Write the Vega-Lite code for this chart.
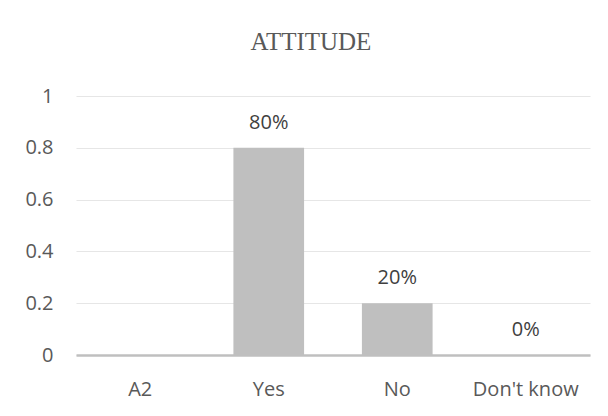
{
  "$schema": "https://vega.github.io/schema/vega-lite/v6.json",
  "autosize": "none",
  "width": 514,
  "height": 259,
  "padding": {"left": 76, "top": 96, "right": 18, "bottom": 61},
  "background": "white",
  "title": {
    "text": "ATTITUDE",
    "font": "Liberation Serif",
    "fontSize": 25,
    "fontWeight": "normal",
    "color": "#595959",
    "anchor": "middle",
    "dx": -22,
    "offset": 31
  },
  "data": {
    "values": [
      {"answer": "A2", "share": null},
      {"answer": "Yes", "share": 0.8},
      {"answer": "No", "share": 0.2},
      {"answer": "Don't know", "share": 0}
    ]
  },
  "encoding": {
    "x": {
      "field": "answer",
      "type": "nominal",
      "sort": null,
      "scale": {"domain": ["A2", "Yes", "No", "Don't know"], "paddingInner": 0.45, "paddingOuter": 0.225},
      "axis": {
        "title": null,
        "labelAngle": 0,
        "ticks": false,
        "domainColor": "#bfbfbf",
        "domainWidth": 2.5,
        "labelPadding": 24,
        "labelFont": "Open Sans",
        "labelFontSize": 20,
        "labelColor": "#595959",
        "grid": false
      }
    },
    "y": {
      "field": "share",
      "type": "quantitative",
      "scale": {"domain": [0, 1]},
      "axis": {
        "title": null,
        "values": [0, 0.2, 0.4, 0.6, 0.8, 1],
        "format": "~g",
        "domain": false,
        "ticks": false,
        "labelPadding": 23,
        "labelFont": "Open Sans",
        "labelFontSize": 20,
        "labelColor": "#595959",
        "gridColor": "#e6e6e6",
        "gridWidth": 1.2
      }
    }
  },
  "layer": [
    {"mark": {"type": "bar", "color": "#bfbfbf"}},
    {
      "mark": {"type": "text", "font": "Open Sans", "fontSize": 20, "color": "#404040", "baseline": "alphabetic", "dy": -19},
      "encoding": {"text": {"field": "share", "type": "quantitative", "format": ".0%"}}
    }
  ],
  "config": {"view": {"stroke": null}}
}
